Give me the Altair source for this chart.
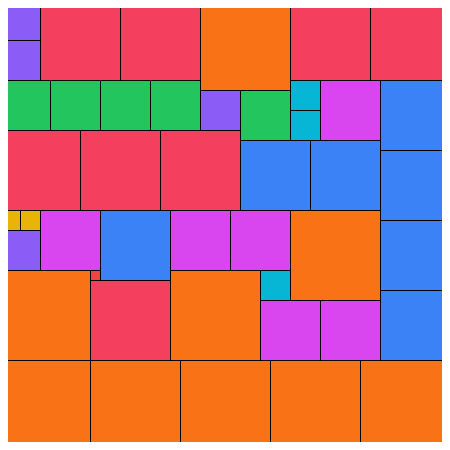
import altair as alt
import pandas as pd

# square positions (left, top) and side lengths, in reference pixel units
xs = [0, 0, 40, 120, 200, 290, 370,
      0, 50, 100, 150, 200, 240, 290, 290, 320,
      380, 380, 380, 380,
      0, 80, 160, 240, 310,
      0, 20, 0, 40, 100, 170, 230, 290,
      0, 90, 90, 170, 260, 260, 320,
      0, 90, 180, 270, 360]
ys = [0, 40, 0, 0, 0, 0, 0,
      80, 80, 80, 80, 90, 90, 80, 110, 80,
      80, 150, 220, 290,
      130, 130, 130, 140, 140,
      210, 210, 230, 210, 210, 210, 210, 210,
      270, 270, 280, 270, 270, 300, 300,
      360, 360, 360, 360, 360]
sizes = [40, 40, 80, 80, 90, 80, 80,
         50, 50, 50, 50, 40, 50, 30, 30, 60,
         70, 70, 70, 70,
         80, 80, 80, 70, 70,
         20, 20, 40, 60, 70, 60, 60, 90,
         90, 10, 80, 90, 30, 60, 60,
         90, 90, 90, 90, 90]
groups = ["violet", "violet", "rose", "rose", "orange", "rose", "rose",
          "green", "green", "green", "green", "violet", "green", "cyan", "cyan", "fuchsia",
          "blue", "blue", "blue", "blue",
          "rose", "rose", "rose", "blue", "blue",
          "yellow", "yellow", "violet", "fuchsia", "blue", "fuchsia", "fuchsia", "orange",
          "orange", "red", "rose", "orange", "cyan", "fuchsia", "fuchsia",
          "orange", "orange", "orange", "orange", "orange"]

color_domain = ["violet", "rose", "orange", "green", "cyan", "fuchsia", "blue", "yellow", "red"]
color_range = ["#8b5cf6", "#f43f5e", "#f97316", "#22c55e", "#06b6d4", "#d946ef", "#3b82f6", "#eab308", "#ef4444"]

df = pd.DataFrame({"x": xs, "y": ys, "s": sizes, "g": groups})

chart = alt.Chart(df).transform_calculate(
    x2="datum.x + datum.s", y2="datum.y + datum.s"
).mark_rect(stroke="black", strokeWidth=1, clip=True).encode(
    x=alt.X("x:Q", scale=alt.Scale(domain=[7.5, 441.5], nice=False, zero=False), axis=None),
    x2="x2:Q",
    y=alt.Y("y:Q", scale=alt.Scale(domain=[7.5, 441.5], nice=False, zero=False, reverse=True), axis=None),
    y2="y2:Q",
    color=alt.Color("g:N", scale=alt.Scale(domain=color_domain, range=color_range), legend=None),
).properties(
    width=434, height=434, padding=0
).configure_view(stroke=None)

chart.save("out.html", embed_options={"renderer": "svg", "actions": False})
